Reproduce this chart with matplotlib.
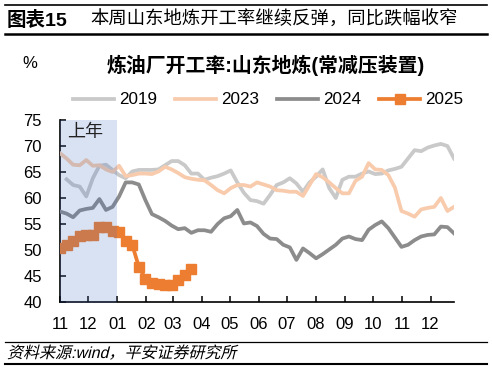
import matplotlib
matplotlib.use('Agg')
import matplotlib.pyplot as plt
import matplotlib.dates as mdates
from matplotlib.lines import Line2D
from matplotlib.patches import PathPatch
from matplotlib.textpath import TextPath
from matplotlib.font_manager import FontProperties
from matplotlib.transforms import Affine2D
import numpy as np
import pandas as pd

plt.rcParams['font.family'] = ['Liberation Sans', 'Noto Sans CJK SC']
plt.rcParams['axes.unicode_minus'] = False

# weekly observations, Nov (previous year) -> Dec
weeks = pd.date_range('2024-11-01', periods=61, freq='7D')

rate_2019 = [np.nan, 63.6, 62.5, 62.2, 60.3, 63.8, 66.2, 66.4, 65.4, 64.4,
             63.8, 65.1, 65.4, 65.4, 65.4, 65.5, 66.3, 67.1, 67.1, 66.3,
             64.7, 64.7, 63.5, 63.9, 64.2, 64.7, 65.3, 63.0, 61.0, 59.6,
             59.4, 58.9, 60.6, 62.5, 63.0, 63.8, 62.8, 61.2, 63.0, 64.1,
             65.5, 61.9, 60.0, 63.5, 64.1, 64.1, 64.7, 65.1, 64.6, 64.7,
             65.3, 65.6, 66.0, 67.6, 69.2, 69.0, 69.7, 70.1, 70.4, 70.0,
             67.6]
rate_2023 = [68.6, 67.6, 66.4, 66.3, 67.3, 66.2, 66.3, 65.5, 65.0, 66.2,
             64.2, 64.4, 64.7, 64.7, 64.6, 65.1, 66.0, 65.5, 64.8, 64.0,
             63.7, 63.5, 63.4, 62.5, 61.5, 60.9, 61.9, 62.5, 62.5, 62.2,
             63.0, 62.6, 62.2, 61.5, 61.4, 61.2, 61.2, 60.4, 62.5, 64.6,
             64.0, 63.0, 61.9, 60.9, 60.9, 63.3, 64.1, 66.7, 65.5, 65.4,
             64.4, 62.0, 57.5, 57.0, 56.4, 57.8, 58.1, 58.3, 60.0, 57.5,
             58.3]
rate_2024 = [57.4, 57.0, 56.3, 57.6, 57.9, 58.1, 59.8, 57.7, 58.3, 60.3,
             63.0, 63.0, 62.6, 59.6, 56.9, 56.3, 55.6, 54.7, 54.0, 54.2,
             53.3, 53.8, 53.8, 53.5, 55.0, 56.1, 56.5, 57.7, 55.1, 55.3,
             54.6, 53.1, 52.2, 52.1, 51.0, 50.5, 48.1, 50.3, 49.4, 48.4,
             49.2, 50.1, 51.0, 52.2, 52.6, 52.1, 51.9, 53.9, 54.8, 55.5,
             54.2, 52.4, 50.6, 51.0, 51.9, 52.6, 52.9, 53.0, 54.5, 54.4,
             53.2]
rate_2025 = [50.4, 50.9, 51.8, 52.6, 52.8, 52.9, 54.4, 54.5, 53.6, 53.5,
             51.8, 51.0, 46.8, 44.5, 43.7, 43.5, 43.3, 43.2, 44.3, 45.2,
             46.4]

W, H = 492, 371
fig = plt.figure(figsize=(W / 100, H / 100), dpi=100)
ax = fig.add_axes([60 / W, 1 - 302 / H, 394 / W, 182 / H])

ax.plot(weeks, rate_2019, color='#C9C9C9', lw=2.7, label='2019', zorder=2)
ax.plot(weeks, rate_2023, color='#F8CBAD', lw=2.7, label='2023', zorder=3)
ax.plot(weeks, rate_2024, color='#8C8C8C', lw=2.7, label='2024', zorder=4)
ax.plot(weeks[:len(rate_2025)], rate_2025, color='#ED7D31', lw=2.7,
        marker='s', markersize=7.5, label='2025', zorder=5)

# previous-year shading sits on top of the lines
ax.axvspan(pd.Timestamp('2024-11-01'), pd.Timestamp('2025-01-01'),
           ymin=-0.005, ymax=1.0, color='#4472C4', alpha=0.2, lw=0,
           zorder=6, clip_on=False)
ax.text(pd.Timestamp('2024-11-09'), 72.5, '上年', fontsize=13,
        color='#222222', va='center', ha='left', zorder=7)

ax.set_ylim(40, 75)
ax.set_yticks(np.arange(40, 76, 5))
ax.set_xlim(pd.Timestamp('2024-11-01'), pd.Timestamp('2025-12-26'))
ax.xaxis.set_major_locator(mdates.MonthLocator())
ax.xaxis.set_major_formatter(mdates.DateFormatter('%m'))

for s in ['top', 'right']:
    ax.spines[s].set_visible(False)
for s in ['left', 'bottom']:
    ax.spines[s].set_linewidth(1.2)
    ax.spines[s].set_color('black')
ax.tick_params(axis='both', direction='in', length=4, width=1.1, labelsize=12)
ax.tick_params(axis='y', pad=13)
ax.tick_params(axis='x', pad=11)

ax.legend(loc='center', bbox_to_anchor=(0.545, 1 - 100 / H),
          bbox_transform=fig.transFigure, ncol=4, frameon=False, fontsize=12.3,
          handlelength=2.4, handletextpad=0.3, columnspacing=1.05)

# headings
fig.text(266 / W, 1 - 65 / H, '炼油厂开工率:山东地炼(常减压装置)',
         ha='center', va='center', fontsize=14.3, fontweight='bold')
fig.text(30 / W, 1 - 63 / H, '%', ha='center', va='center', fontsize=12)

fig.text(7 / W, 1 - 20 / H, '图表15', ha='left', va='center',
         fontsize=14, fontweight='bold')
fig.text(90 / W, 1 - 20 / H, '本周山东地炼开工率继续反弹，同比跌幅收窄',
         ha='left', va='center', fontsize=13.2)
fig.add_artist(Line2D([5 / W, 487 / W], [1 - 5 / H] * 2, color='black', lw=1.2))
fig.add_artist(Line2D([5 / W, 487 / W], [1 - 33.5 / H] * 2, color='black', lw=1.8))

# source line, slanted like the original
src = TextPath((0, 0), '资料来源:wind，平安证券研究所', size=16,
               prop=FontProperties(family=['Liberation Sans', 'Noto Sans CJK SC']))
src_tf = Affine2D().skew_deg(14, 0).translate(7, H - 358).scale(1 / 100) + fig.dpi_scale_trans
fig.add_artist(PathPatch(src, transform=src_tf, facecolor='black', lw=0))
fig.add_artist(Line2D([5 / W, 487 / W], [1 - 342 / H] * 2, color='black', lw=0.9))
fig.add_artist(Line2D([5 / W, 487 / W], [1 - 364 / H] * 2, color='black', lw=1.5))

fig.savefig('out.png', dpi=100)
